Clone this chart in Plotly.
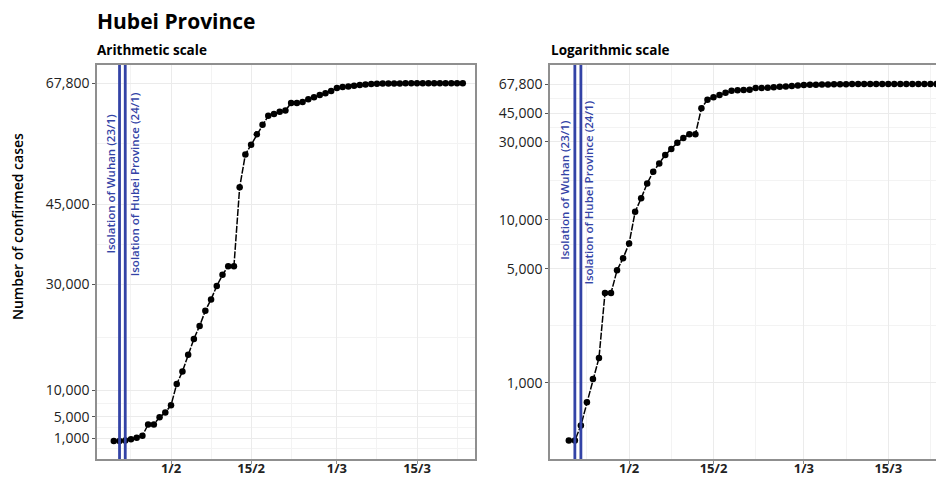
import pandas as pd
import plotly.graph_objects as go

# data: cumulative confirmed cases in Hubei, 22 Jan - 23 Mar 2020
dates = pd.date_range("2020-01-22", "2020-03-23", freq="D")
cases = [444, 444, 549, 761, 1058, 1423, 3554, 3554, 4903, 5806,
         7153, 11177, 13522, 16678, 19665, 22112, 24953, 27100, 29631, 31728,
         33366, 33366, 48206, 54406, 56249, 58182, 59989, 61682, 62031, 62442,
         62662, 64084, 64084, 64287, 64786, 65187, 65596, 65914, 66337,
         66907, 67103, 67217, 67332, 67466, 67592, 67666, 67707, 67743, 67760,
         67773, 67781, 67786, 67790, 67794, 67798, 67799,
         67800, 67800, 67800, 67800, 67800, 67800]

y_ticks = [1000, 5000, 10000, 30000, 45000, 67800]
y_ticktext = ["1,000", "5,000", "10,000", "30,000", "45,000", "67,800"]
y_minor_lin = [-1000, 3000, 7500, 20000, 37500, 56400]
y_minor_log = [2236, 7071, 17321, 36742, 55236]

x_ticks = ["2020-02-01", "2020-02-15", "2020-03-01", "2020-03-15"]
x_ticktext = ["1/2", "15/2", "1/3", "15/3"]
x_minor = ["2020-01-25", "2020-02-08", "2020-02-22", "2020-03-08", "2020-03-22"]

events = ["2020-01-23", "2020-01-24"]
event_labels = ["Isolation of Wuhan (23/1)", "Isolation of Hubei Province (24/1)"]

# the page body has an 8px margin, so the figure is drawn 8px smaller
OFF = 8
W, H = 944 - OFF, 478 - OFF
FONT = "Open Sans"
BLUE = "#3343a6"
FRAME = "#8f8f8f"
GRID = "#ebebeb"


def px(x):
    return (x - OFF) / W


def py(y):
    return 1 - (y - OFF) / H


fig = go.Figure()
for xa, ya in [("x", "y"), ("x2", "y2")]:
    fig.add_trace(go.Scatter(x=dates, y=cases, xaxis=xa, yaxis=ya, mode="lines+markers",
                             line=dict(color="black", width=1.5, dash="7px,1.5px"),
                             marker=dict(color="black", size=6.5), showlegend=False))

ydom = [py(459), py(65)]
xcommon = dict(type="date", tickvals=x_ticks, ticktext=x_ticktext,
               tickfont=dict(family=FONT, size=13, color="#222", weight="bold"),
               ticklabelstandoff=-6,
               showgrid=True, gridcolor=GRID, gridwidth=1,
               minor=dict(tickvals=x_minor, showgrid=True, gridcolor="#f3f3f3", gridwidth=0.8),
               showline=True, linecolor=FRAME, linewidth=1.5, mirror=True,
               ticks="outside", ticklen=3, tickcolor=FRAME, zeroline=False, automargin=False)
ycommon = dict(tickvals=y_ticks, ticktext=y_ticktext,
               tickfont=dict(family=FONT, size=14, color="#222"),
               showgrid=True, gridcolor=GRID, gridwidth=1,
               showline=True, linecolor=FRAME, linewidth=1.5,
               ticks="outside", ticklen=3, tickcolor="#555", zeroline=False, automargin=False)

fig.update_layout(
    width=W, height=H, margin=dict(l=0, r=0, t=0, b=0),
    paper_bgcolor="white", plot_bgcolor="white",
    font=dict(family=FONT),
    xaxis=dict(xcommon, domain=[px(97), px(475)], anchor="y",
               range=["2020-01-19 01:30", "2020-03-25 03:20"]),
    yaxis=dict(ycommon, domain=ydom, anchor="x", range=[-2955, 71245], mirror=True,
               minor=dict(tickvals=y_minor_lin, showgrid=True, gridcolor="#f3f3f3", gridwidth=0.8)),
    xaxis2=dict(xcommon, domain=[px(550), 1.0], anchor="y2",
                range=["2020-01-18 21:00", "2020-03-24 06:00"]),
    yaxis2=dict(ycommon, domain=ydom, anchor="x2", type="log", range=[2.534, 4.948],
                minor=dict(tickvals=y_minor_log, showgrid=True, gridcolor="#f3f3f3", gridwidth=0.8)),
)

# isolation lines and their labels
shifts = {"x": [-9, 10], "x2": [-10, 8]}
ypos = {"x": [0.698, 0.698], "x2": [0.683, 0.676]}
for xa, ya in [("x", "y"), ("x2", "y2")]:
    for i, d in enumerate(events):
        fig.add_shape(type="line", xref=xa, yref=ya + " domain", x0=d, x1=d, y0=0, y1=1,
                      line=dict(color=BLUE, width=2.8))
        fig.add_annotation(x=d, xref=xa, y=ypos[xa][i], yref=ya + " domain", xshift=shifts[xa][i],
                           text=event_labels[i], textangle=-90, showarrow=False,
                           xanchor="center", yanchor="middle",
                           font=dict(family=FONT, size=11.5, color=BLUE, weight=600))

# titles
fig.add_annotation(x=px(95), y=py(21), xref="paper", yref="paper", xanchor="left", yanchor="middle",
                   text="Hubei Province", showarrow=False,
                   font=dict(family=FONT, size=21, color="black", weight="bold"))
fig.add_annotation(x=px(95), y=py(50), xref="paper", yref="paper", xanchor="left", yanchor="middle",
                   text="Arithmetic scale", showarrow=False,
                   font=dict(family=FONT, size=13.5, color="black", weight="bold"))
fig.add_annotation(x=px(549), y=py(50), xref="paper", yref="paper", xanchor="left", yanchor="middle",
                   text="Logarithmic scale", showarrow=False,
                   font=dict(family=FONT, size=13.5, color="black", weight="bold"))
fig.add_annotation(x=px(18), y=py(227), xref="paper", yref="paper", xanchor="center", yanchor="middle",
                   text="Number of confirmed cases", textangle=-90, showarrow=False,
                   font=dict(family=FONT, size=14, color="black", weight=600))

fig.write_html("out.html")
